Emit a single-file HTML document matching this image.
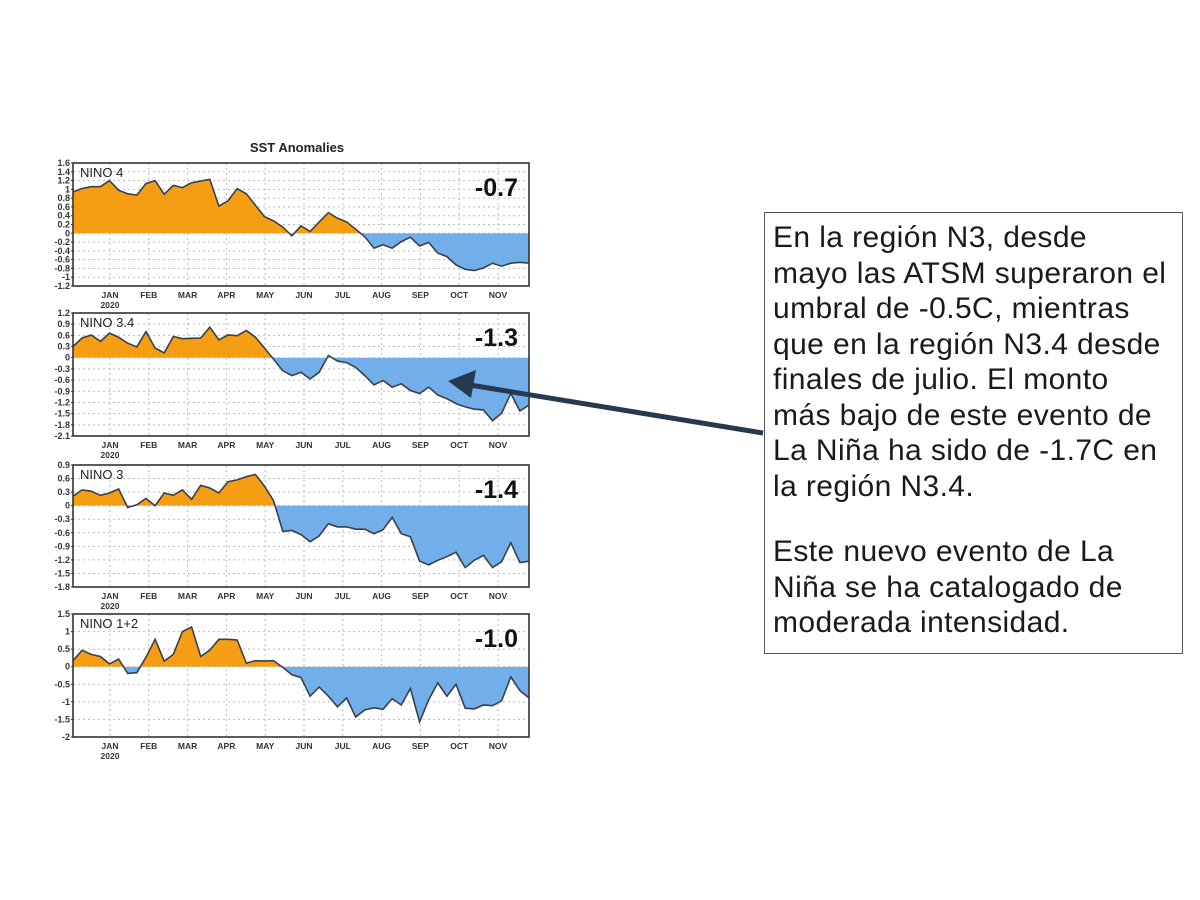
<!DOCTYPE html>
<html><head><meta charset="utf-8"><style>
body{margin:0;background:#fff;width:1200px;height:900px;overflow:hidden;font-family:"Liberation Sans",sans-serif;}
#note{position:absolute;left:764px;top:212px;width:419px;height:442px;box-sizing:border-box;border:1.5px solid #555;padding:7px 0 0 8px;font-size:30px;line-height:35.5px;color:#1a1a1a;letter-spacing:0.4px;white-space:nowrap;}
</style></head><body>
<svg id="chart" width="1200" height="900" style="position:absolute;left:0;top:0"></svg>
<div id="note">En la región N3, desde<br>mayo las ATSM superaron el<br>umbral de -0.5C, mientras<br>que en la región N3.4 desde<br>finales de julio. El monto<br>más bajo de este evento de<br>La Niña ha sido de -1.7C en<br>la región N3.4.<br><div style="height:30px"></div>Este nuevo evento de La<br>Niña se ha catalogado de<br>moderada intensidad.</div>
<script>
const months=["JAN","FEB","MAR","APR","MAY","JUN","JUL","AUG","SEP","OCT","NOV"];
const nino4=[0.94,1.02,1.06,1.06,1.2,0.98,0.9,0.87,1.13,1.2,0.89,1.09,1.04,1.15,1.19,1.23,0.62,0.74,1.02,0.9,0.64,0.38,0.28,0.14,-0.06,0.17,0.04,0.26,0.47,0.34,0.26,0.09,-0.08,-0.34,-0.26,-0.34,-0.19,-0.09,-0.29,-0.21,-0.45,-0.53,-0.72,-0.82,-0.85,-0.79,-0.68,-0.75,-0.68,-0.66,-0.68];
const nino34=[0.3,0.53,0.61,0.44,0.66,0.55,0.39,0.29,0.7,0.26,0.13,0.57,0.51,0.52,0.53,0.82,0.48,0.61,0.59,0.73,0.55,0.26,-0.04,-0.35,-0.48,-0.39,-0.57,-0.39,0.06,-0.09,-0.13,-0.26,-0.48,-0.73,-0.61,-0.79,-0.7,-0.88,-0.96,-0.79,-1.0,-1.1,-1.23,-1.32,-1.38,-1.4,-1.69,-1.49,-0.96,-1.43,-1.27];
const nino3=[0.21,0.35,0.32,0.23,0.28,0.37,-0.04,0.02,0.16,0,0.28,0.23,0.35,0.14,0.45,0.39,0.28,0.53,0.57,0.64,0.69,0.43,0.11,-0.57,-0.55,-0.64,-0.8,-0.67,-0.4,-0.47,-0.47,-0.52,-0.52,-0.62,-0.53,-0.26,-0.62,-0.69,-1.23,-1.31,-1.21,-1.13,-1.03,-1.37,-1.21,-1.1,-1.37,-1.24,-0.82,-1.26,-1.23];
const nino12=[0.17,0.47,0.35,0.29,0.08,0.22,-0.19,-0.17,0.27,0.78,0.16,0.35,1.0,1.13,0.29,0.47,0.78,0.78,0.76,0.1,0.17,0.16,0.17,-0.02,-0.23,-0.31,-0.84,-0.58,-0.84,-1.14,-0.89,-1.43,-1.23,-1.17,-1.21,-0.91,-1.09,-0.62,-1.57,-0.94,-0.46,-0.84,-0.5,-1.18,-1.2,-1.09,-1.11,-0.97,-0.29,-0.68,-0.89];
const ticks4=[1.6,1.4,1.2,1,0.8,0.6,0.4,0.2,0,-0.2,-0.4,-0.6,-0.8,-1,-1.2];
const ticks34=[1.2,0.9,0.6,0.3,0,-0.3,-0.6,-0.9,-1.2,-1.5,-1.8,-2.1];
const ticks3=[0.9,0.6,0.3,0,-0.3,-0.6,-0.9,-1.2,-1.5,-1.8];
const ticks12=[1.5,1,0.5,0,-0.5,-1,-1.5,-2];
const panels=[
 {name:"NINO  4",id:"nino4",data:nino4,ticks:ticks4,min:-1.2,max:1.6,top:163,bot:286,val:"-0.7"},
 {name:"NINO  3.4",id:"nino34",data:nino34,ticks:ticks34,min:-2.1,max:1.2,top:313,bot:436,val:"-1.3"},
 {name:"NINO  3",id:"nino3",data:nino3,ticks:ticks3,min:-1.8,max:0.9,top:465,bot:587,val:"-1.4"},
 {name:"NINO  1+2",id:"nino12",data:nino12,ticks:ticks12,min:-2,max:1.5,top:614,bot:737,val:"-1.0"}];
const NS="http://www.w3.org/2000/svg";
const svg=document.getElementById("chart");
function mk(t,a,p){const e=document.createElementNS(NS,t);for(const k in a)e.setAttribute(k,a[k]);(p||svg).appendChild(e);return e;}
const X0=73,X1=529;
const xs=i=>X0+i*(X1-X0)/50;
const mx=m=>110+m*38.8;
let t=mk("text",{x:297,y:152,"text-anchor":"middle","font-size":"13","font-weight":"bold",fill:"#222"});
t.textContent="SST Anomalies";
panels.forEach((p,pi)=>{
 const ys=v=>p.bot-(v-p.min)/(p.max-p.min)*(p.bot-p.top);
 const g=mk("g",{});
 
 
 const y0=ys(0);
 p.ticks.forEach(v=>{mk("line",{x1:X0,x2:X1,y1:ys(v),y2:ys(v),stroke:"#bbb","stroke-dasharray":"2,3","stroke-width":1},g);});
 months.forEach((m,i)=>{mk("line",{x1:mx(i),x2:mx(i),y1:p.top,y2:p.bot,stroke:"#bbb","stroke-dasharray":"2,3"},g);});
 const cid="c"+pi;
 const defs=mk("defs",{},g);
 const ca=mk("clipPath",{id:cid+"a"},defs);mk("rect",{x:X0,y:p.top,width:X1-X0,height:y0-p.top},ca);
 const cb=mk("clipPath",{id:cid+"b"},defs);mk("rect",{x:X0,y:y0,width:X1-X0,height:p.bot-y0},cb);
 let pts=p.data.map((v,i)=>xs(i).toFixed(1)+","+ys(v).toFixed(1)).join(" L");
 const area="M"+X0+","+y0+" L"+pts+" L"+X1+","+y0+"Z";
 const a1=mk("path",{d:area,fill:"#f59d13","clip-path":"url(#"+cid+"a)"},g);
 
 const a2=mk("path",{d:area,fill:"#71aeea","clip-path":"url(#"+cid+"b)"},g);
 
 const ln=mk("path",{d:"M"+pts,fill:"none",stroke:"#3a4048","stroke-width":1.6},g);
 
 mk("rect",{x:X0,y:p.top,width:X1-X0,height:p.bot-p.top,fill:"none",stroke:"#333","stroke-width":1.6},g);
 p.ticks.forEach(v=>{const tt=mk("text",{x:X0-3,y:ys(v)+3,"text-anchor":"end","font-size":"9","font-weight":"bold",fill:"#333"},g);
  tt.textContent=String(v);
  mk("line",{x1:X0-2,x2:X0,y1:ys(v),y2:ys(v),stroke:"#333"},g);});
 months.forEach((m,i)=>{const tt=mk("text",{x:mx(i),y:p.bot+12,"text-anchor":"middle","font-size":"8.5","font-weight":"bold",fill:"#333"},g);
  tt.textContent=m;});
 const yr=mk("text",{x:mx(0),y:p.bot+22,"text-anchor":"middle","font-size":"8.5","font-weight":"bold",fill:"#333"},g);
 yr.textContent="2020";
 const nm=mk("text",{x:80,y:p.top+14,"font-size":"13",fill:"#222"},g);
 nm.textContent=p.name;
 const vl=mk("text",{x:518,y:p.top+33,"text-anchor":"end","font-size":"25","font-weight":"bold",fill:"#111"},g);
 vl.textContent=p.val;
});
const ar=mk("g",{});


mk("line",{x1:763,y1:433,x2:470,y2:385,stroke:"#253a4e","stroke-width":5},ar);
mk("polygon",{points:"448,381 476,370 471,398",fill:"#253a4e"},ar);
</script>
</body></html>
